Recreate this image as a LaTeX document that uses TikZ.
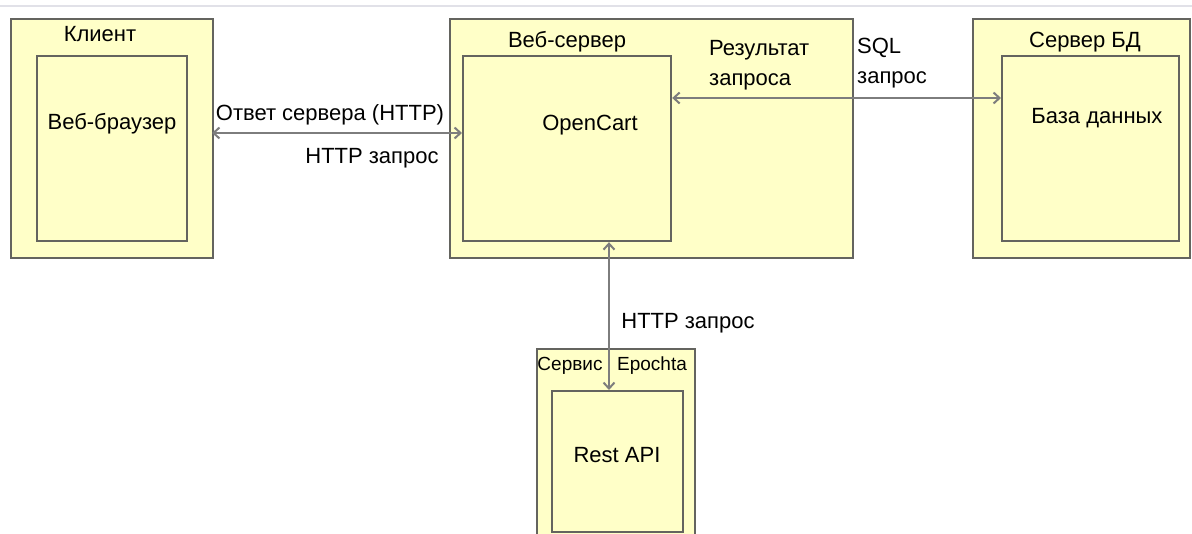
\documentclass[tikz,border=0pt]{standalone}
\usepackage{fontspec}
\setmainfont{Liberation Sans}
\usetikzlibrary{arrows.meta,positioning,calc}
\definecolor{boxfill}{RGB}{255,255,200}
\definecolor{boxline}{RGB}{100,100,95}
\definecolor{arrowgray}{RGB}{125,125,125}
\definecolor{topline}{RGB}{225,225,232}

\begin{document}
\begin{tikzpicture}[x=1pt,y=-1pt,
    outerbox/.style={draw=boxline, fill=boxfill, line width=1.8pt, anchor=north west, inner sep=0pt},
    innerbox/.style={outerbox, line width=2.2pt},
    link/.style={draw=arrowgray, line width=2pt, {Straight Barb[length=6pt,width=11pt]}-{Straight Barb[length=6pt,width=11pt]}},
    txt/.style={font=\fontsize{22}{30}\selectfont, inner sep=0pt},
    small/.style={font=\fontsize{19}{22}\selectfont, inner sep=0pt}]
        \useasboundingbox (0,0) rectangle (1192,534);
        \draw[topline, line width=1.2pt] (0,6) -- (1192,6);

        % outer boxes
        \node[outerbox, minimum width=202pt, minimum height=239pt] (client) at (10,18) {};
        \node[outerbox, minimum width=403pt, minimum height=239pt] (web) at (449,18) {};
        \node[outerbox, minimum width=217pt, minimum height=239pt] (dbsrv) at (972,18) {};
        \node[outerbox, minimum width=158pt, minimum height=200pt] (epochta) at (536,348) {};

        % inner boxes
        \node[innerbox, minimum width=150pt, minimum height=185pt] (browser) at (36,55) {};
        \node[innerbox, minimum width=208pt, minimum height=185pt] (ocart) at (462,55) {};
        \node[innerbox, minimum width=177pt, minimum height=185pt] (db) at (1001,55) {};
        \node[innerbox, minimum width=131pt, minimum height=141pt] (rest) at (551,390) {};

        % titles
        \node[txt] (clientlbl) at (100,34) {Клиент};
        \node[txt] (browserlbl) at (112,124) {Веб-браузер};
        \node[txt] (weblbl) at (567,42) {Веб-сервер};
        \node[txt] (ocartlbl) at (590,125) {OpenCart};
        \node[txt] (dbsrvlbl) at (1085,42) {Сервер БД};
        \node[txt] (dblbl) at (1097,118) {База данных};
        \node[small] (servlbl) at (570,366) {Сервис};
        \node[small] (epolbl) at (652,366) {Epochta};
        \node[txt] (restlbl) at (617,455) {Rest API};

        % connectors
        \coordinate (c1) at (212,133);
        \coordinate (c2) at (462,133);
        \draw[link] (c1) -- (c2);
        \node[txt] (resp) at (330,115) {Ответ сервера (HTTP)};
        \node[txt] (req1) at (372,158) {HTTP запрос};

        \draw[link] (ocart.east |- 0,98) -- (db.west |- 0,98);
        \node[txt, anchor=west, align=left] (sqlres) at (709,65) {Результат\\запроса};
        \node[txt, anchor=west, align=left] (sqlreq) at (857,63) {SQL\\запрос};

        \draw[link] (ocart.south -| 609,0) -- (rest.north -| 609,0);
        \node[txt] (req2) at (688,323) {HTTP запрос};
    \end{tikzpicture}
\end{document}
